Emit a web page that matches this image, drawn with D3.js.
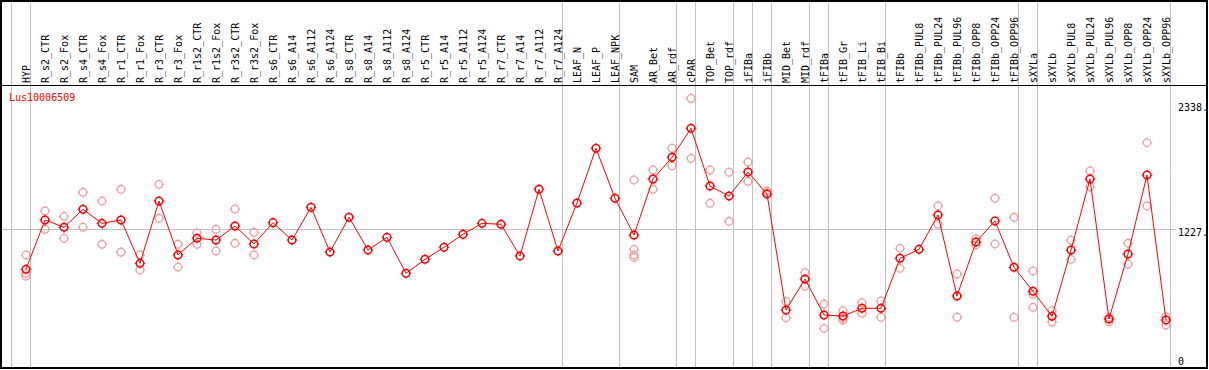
<!DOCTYPE html>
<html><head><meta charset="utf-8">
<script src="https://cdn.jsdelivr.net/npm/d3@7"></script>
<style>
body{margin:0;background:#fff}
svg{display:block}
text{font-family:"DejaVu Sans Mono","Liberation Mono",monospace;font-size:10px}
</style>
</head><body>
<svg id="c" width="1209" height="370"></svg>
<script>
const geneName = "Lus10006509";
const categories = ["HYP","R_s2_CTR","R_s2_Fox","R_s4_CTR","R_s4_Fox","R_r1_CTR","R_r1_Fox","R_r3_CTR","R_r3_Fox","R_r1s2_CTR","R_r1s2_Fox","R_r3s2_CTR","R_r3s2_Fox","R_s6_CTR","R_s6_A14","R_s6_A112","R_s6_A124","R_s8_CTR","R_s8_A14","R_s8_A112","R_s8_A124","R_r5_CTR","R_r5_A14","R_r5_A112","R_r5_A124","R_r7_CTR","R_r7_A14","R_r7_A112","R_r7_A124","LEAF_N","LEAF_P","LEAF_NPK","SAM","AR_Bet","AR_rdf","cPAR","TOP_Bet","TOP_rdf","iFIBa","iFIBb","MID_Bet","MID_rdf","tFIBa","tFIB_Gr","tFIB_Li","tFIB_Bi","tFIBb","tFIBb_PUL8","tFIBb_PUL24","tFIBb_PUL96","tFIBb_OPP8","tFIBb_OPP24","tFIBb_OPP96","sXYLa","sXYLb","sXYLb_PUL8","sXYLb_PUL24","sXYLb_PUL96","sXYLb_OPP8","sXYLb_OPP24","sXYLb_OPP96"];
const meanValues = [863,1303,1238,1398,1273,1303,916,1472,991,1140,1124,1249,1089,1279,1124,1416,1017,1327,1035,1148,827,952,1059,1175,1273,1265,982,1577,1026,1455,1943,1497,1169,1669,1862,2121,1606,1517,1731,1535,500,776,455,446,515,515,961,1041,1348,625,1107,1294,881,667,444,1035,1669,419,999,1704,410];
const replicates = [
  [991,827,803],[1383,1220],[1336,1140],[1550,1238],[1472,1086],[1577,1015],[991,857],[1621,1318],[1086,883],[1187,1086],[1220,1026],[1401,1095],[1193,991],
  [],[],[],[],[],[],[],[],[],[],[],[],[],[],[],[],
  [],[],[],
  [1660,1041,991,970],[1749,1577],[1943,1787],[2389,1853],[1749,1452],[1729,1291],[1820,1648],[1562,1547],[574,431],[833,714],[553,336],[494,428,410],[565,470],[580,435],
  [1050,872],[],[1428,1265],[821,435],[1136,1080],[1497,1089],[1327,435],
  [848,640,524],[494,395],[1122,952],[1740,1600],[435,395],[1095,910],[1993,1428],[440,366]
];
const separatorsAfter = ["HYP","R_r7_A124","LEAF_NPK","AR_rdf","cPAR","TOP_rdf","iFIBa","iFIBb","MID_rdf","tFIBa","tFIB_Bi","tFIBb_OPP96","sXYLa","sXYLb_OPP96"];
const yTickValues = [2338, 1227, 0];
const yTickLabels = ["2338.", "1227.", "0"];
const refLineValue = 1227;

const svg = d3.select("#c");
const x = d3.scaleBand().domain(categories).range([11, 1170]).padding(0);
const px = c => x(c) + 15;
const y = d3.scaleLinear().domain([0, 2338]).range([366, 104]);

const grid = "#c0c0c0";
const sepX = [x(categories[0])].concat(separatorsAfter.map(c => x(c) + x.bandwidth()));
svg.append("g").selectAll("line").data(sepX).join("line")
  .attr("x1", d => d + 0.5).attr("x2", d => d + 0.5)
  .attr("y1", 1).attr("y2", 368)
  .attr("stroke", grid).attr("stroke-width", 1);

svg.append("line")
  .attr("x1", 1).attr("x2", 1176)
  .attr("y1", Math.round(y(refLineValue)) + 0.5).attr("y2", Math.round(y(refLineValue)) + 0.5)
  .attr("stroke", grid).attr("stroke-width", 1);

svg.append("rect").attr("x", 1).attr("y", 1).attr("width", 1206).attr("height", 367)
  .attr("fill", "none").attr("stroke", "#000").attr("stroke-width", 2);
svg.append("line").attr("x1", 1).attr("x2", 1207).attr("y1", 85.5).attr("y2", 85.5)
  .attr("stroke", "#000").attr("stroke-width", 1.2);

svg.append("g").selectAll("text").data(categories).join("text")
  .attr("transform", c => `translate(${px(c) + 3.5},83) rotate(-90)`)
  .attr("text-anchor", "start")
  .attr("fill", "#000")
  .text(c => c);

svg.append("g").selectAll("text").data(yTickValues).join("text")
  .attr("x", 1178)
  .attr("y", (d, i) => i === yTickValues.length - 1 ? 365 : y(d) + 7)
  .attr("fill", "#000")
  .text((d, i) => yTickLabels[i]);

svg.append("text").attr("x", 9).attr("y", 101).attr("fill", "#ff0000").text(geneName);

function marker(g, color, sw) {
  g.append("circle").attr("r", 3.8).attr("fill", "none").attr("stroke", color).attr("stroke-width", sw);
  g.append("path").attr("d", "M0,-4V-5.3M0,4V5.3M-4,0H-5.3M4,0H5.3")
    .attr("stroke", color).attr("stroke-width", 1);
}

const repPts = [];
replicates.forEach((arr, i) => arr.forEach(v => repPts.push({c: categories[i], v})));
svg.append("g").selectAll("g").data(repPts).join("g")
  .attr("transform", d => `translate(${px(d.c)},${y(d.v)})`)
  .each(function() { marker(d3.select(this), "#eda0a0", 1.3); });

const line = d3.line().x((d, i) => px(categories[i])).y(d => y(d));
svg.append("path").datum(meanValues).attr("d", line)
  .attr("fill", "none").attr("stroke", "#ff0000").attr("stroke-width", 1);

svg.append("g").selectAll("g").data(meanValues).join("g")
  .attr("transform", (d, i) => `translate(${px(categories[i])},${y(d)})`)
  .each(function() { marker(d3.select(this), "#ff0000", 1.5); });
</script>
</body></html>
